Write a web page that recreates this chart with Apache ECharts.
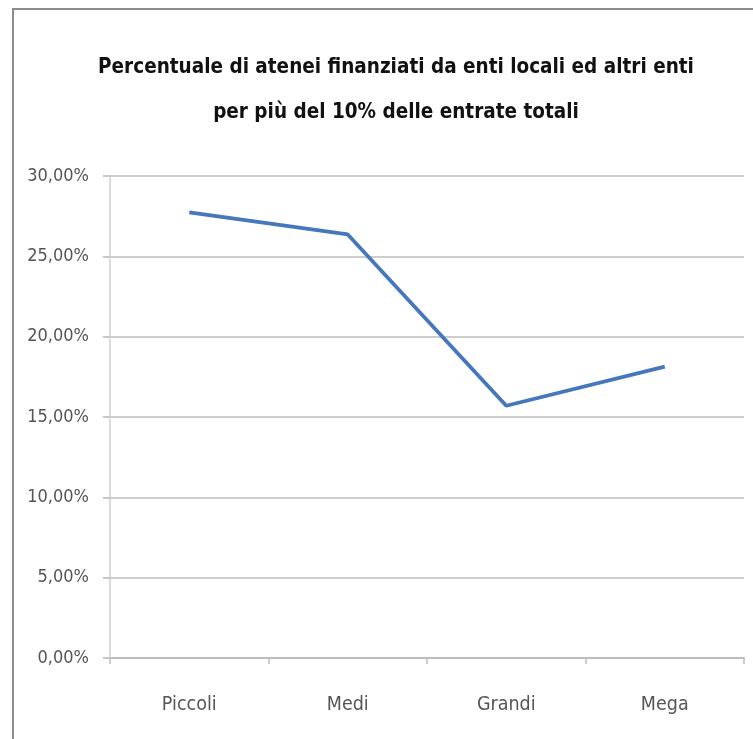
<!DOCTYPE html>
<html>
<head>
<meta charset="utf-8">
<script src="https://cdn.jsdelivr.net/npm/echarts@6/dist/echarts.min.js"></script>
<style>
html,body{margin:0;padding:0;background:#fff;}
#chart{width:753px;height:739px;}
</style>
</head>
<body>
<div id="chart"></div>
<script>
// categorie (dimensione atenei)
var categorie = ['Piccoli', 'Medi', 'Grandi', 'Mega'];
// percentuale di atenei finanziati per più del 10%
var percentuali = [27.73, 26.36, 15.70, 18.13];
var titolo = 'Percentuale di atenei finanziati da enti locali ed altri enti\nper più del 10% delle entrate totali';

var font = '"Liberation Sans Narrow", "DejaVu Sans Condensed", "Liberation Sans", sans-serif';

var myChart = echarts.init(document.getElementById('chart'));
var option = {
	backgroundColor: '#fff',
	animation: false,
	title: {
		text: titolo,
		left: 391,
		textAlign: 'center',
		top: 40,
		textStyle: {
			fontFamily: font,
			fontWeight: 'bold',
			fontSize: 20.5,
			lineHeight: 45,
			color: '#111'
		}
	},
	graphic: [{
		type: 'rect',
		shape: {x: 13, y: 9, width: 800, height: 800},
		style: {fill: 'none', stroke: '#8c8c8c', lineWidth: 2}
	}],
	grid: {left: 110, right: 9, top: 176, bottom: 81},
	xAxis: {
		type: 'category',
		data: categorie,
		boundaryGap: true,
		axisLine: {lineStyle: {color: '#bdbdbd', width: 2}},
		axisTick: {show: true, length: 6, lineStyle: {color: '#bdbdbd', width: 1.5}},
		axisLabel: {
			margin: 37,
			fontFamily: font,
			fontSize: 19.5,
			color: '#555'
		}
	},
	yAxis: {
		type: 'value',
		min: 0,
		max: 30,
		interval: 5,
		axisLine: {show: true, lineStyle: {color: '#d0d0d0', width: 1.5}},
		axisTick: {show: true, length: 7, lineStyle: {color: '#c8c8c8', width: 2}},
		splitLine: {lineStyle: {color: '#cdcdcd', width: 2}},
		axisLabel: {
			margin: 21,
			fontFamily: font,
			fontSize: 18,
			color: '#555',
			formatter: function(v){
				return v.toFixed(2).replace('.', ',') + '%';
			}
		}
	},
	series: [{
		type: 'line',
		data: percentuali,
		symbol: 'none',
		lineStyle: {color: '#4577bc', width: 3.8}
	}]
};
myChart.setOption(option);
</script>
</body>
</html>
